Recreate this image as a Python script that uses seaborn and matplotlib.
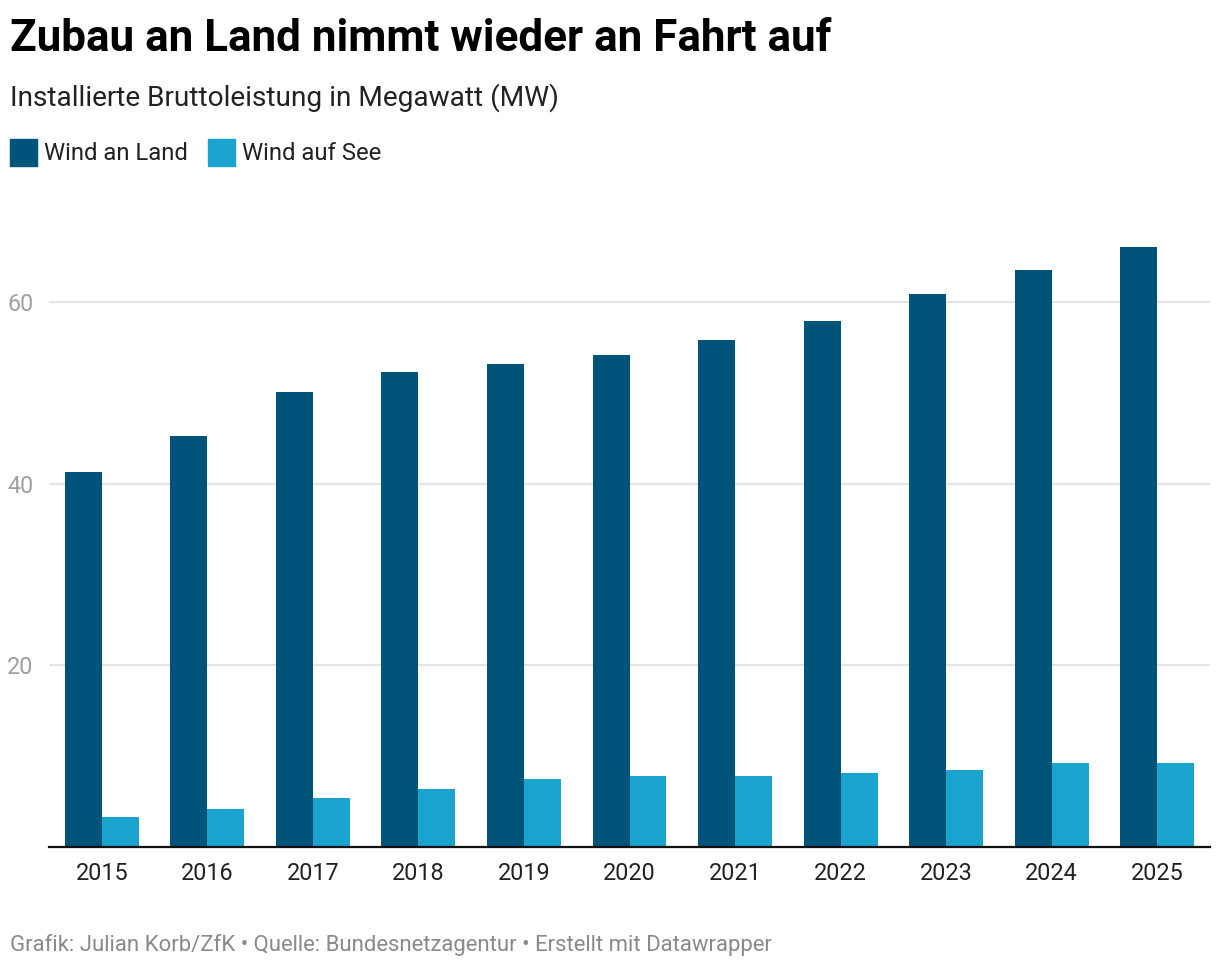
import pandas as pd
import seaborn as sns
import matplotlib
matplotlib.use('Agg')
import matplotlib.pyplot as plt
from matplotlib.patches import Rectangle

years = ["2015", "2016", "2017", "2018", "2019", "2020", "2021", "2022", "2023", "2024", "2025"]
wind_land = [41.3, 45.2, 50.1, 52.3, 53.2, 54.2, 55.8, 57.9, 60.9, 63.5, 66.0]
wind_see = [3.3, 4.2, 5.4, 6.4, 7.5, 7.8, 7.8, 8.1, 8.5, 9.2, 9.2]
series = ["Wind an Land", "Wind auf See"]
colors = ["#00547a", "#1ba3cf"]

df = pd.DataFrame({
    "Jahr": years * 2,
    "Serie": [series[0]] * len(years) + [series[1]] * len(years),
    "MW": wind_land + wind_see,
})

sns.set_theme(style="white")
plt.rcParams['font.family'] = ['Roboto', 'DejaVu Sans']

fig = plt.figure(figsize=(12.2, 9.68), dpi=100)
ax = fig.add_axes([49 / 1220, 1 - 847 / 968, (1210 - 49) / 1220, (847 - 211) / 968])

sns.barplot(data=df, x="Jahr", y="MW", hue="Serie", palette=colors,
            width=0.7, gap=0, saturation=1, ax=ax, legend=False, edgecolor="none")

ax.set_xlim(-0.5, len(years) - 0.5)
ax.set_ylim(0, 70)
ax.set_yticks([20, 40, 60])
ax.set_xlabel("")
ax.set_ylabel("")
for y in [20, 40, 60]:
    ax.axhline(y, color="#e5e5e5", lw=1.5, zorder=0)
ax.set_axisbelow(True)
for s in ["top", "right", "left"]:
    ax.spines[s].set_visible(False)
ax.spines["bottom"].set_color("#111111")
ax.spines["bottom"].set_linewidth(1.6)
ax.tick_params(axis="x", length=0, pad=11, labelsize=16.8, labelcolor="#222222")
ax.tick_params(axis="y", length=0, pad=11, labelsize=16.8, labelcolor="#a0a0a0")

fig.text(10 / 1220, 1 - 51 / 968, "Zubau an Land nimmt wieder an Fahrt auf",
         fontsize=31.7, fontweight="bold", color="#000000", va="baseline")
fig.text(10 / 1220, 1 - 106 / 968, "Installierte Bruttoleistung in Megawatt (MW)",
         fontsize=20.2, color="#222222", va="baseline")

# legend
leg_x = [10, 208]
for i, name in enumerate(series):
    fig.patches.append(Rectangle((leg_x[i] / 1220, 1 - 166 / 968), 27 / 1220, 27 / 968,
                                 transform=fig.transFigure, color=colors[i]))
    fig.text((leg_x[i] + 34) / 1220, 1 - 160 / 968, name,
             fontsize=17.2, color="#222222", va="baseline")

fig.text(10 / 1220, 1 - 951 / 968,
         "Grafik: Julian Korb/ZfK \u2022 Quelle: Bundesnetzagentur \u2022 Erstellt mit Datawrapper",
         fontsize=15.9, color="#8a8a8a", va="baseline")

fig.savefig("out.png", dpi=100)
